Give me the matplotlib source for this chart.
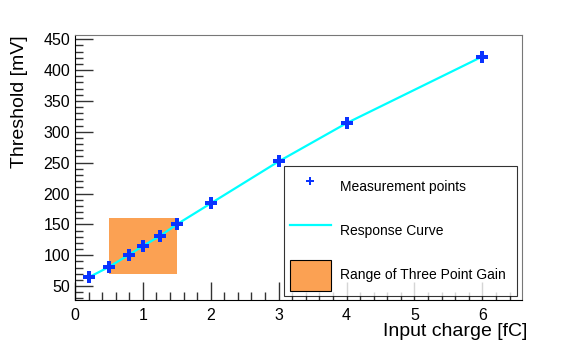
import matplotlib.pyplot as plt
from matplotlib.patches import Rectangle
from matplotlib.ticker import MultipleLocator

plt.rcParams['font.family'] = ['Liberation Sans', 'DejaVu Sans']

charge = [0.2, 0.5, 0.8, 1.0, 1.25, 1.5, 2.0, 3.0, 4.0, 6.0]
threshold = [64, 81, 101, 115, 131, 150, 184, 252, 314, 422]
gain_x = [0.5, 1.5]
gain_y = [70, 160]

fig = plt.figure(figsize=(5.81, 3.47), dpi=100)
ax = fig.add_axes([0.129, 0.135, 0.769, 0.764])

box = Rectangle((gain_x[0], gain_y[0]), gain_x[1] - gain_x[0], gain_y[1] - gain_y[0],
                facecolor='#fba153', edgecolor='none', zorder=1)
ax.add_patch(box)
ax.plot(charge, threshold, color='#00ffff', lw=1.6, zorder=2)
ax.plot(charge, threshold, ls='none', marker='P', ms=8, color='#0a33ff',
        markeredgewidth=0, zorder=3)

# legend proxies
h_pts, = ax.plot([], [], ls='none', marker='P', ms=6, color='#0a33ff', markeredgewidth=0)
h_line, = ax.plot([], [], color='#00ffff', lw=1.6)
h_box = Rectangle((0, 0), 1, 1, facecolor='#fba153', edgecolor='black', lw=0.8)
leg = ax.legend([h_pts, h_line, h_box],
                ['Measurement points', 'Response Curve', 'Range of Three Point Gain'],
                loc='lower left', bbox_to_anchor=(0.468, 0.015, 0.521, 0.487), mode='expand',
                fontsize=10, frameon=True, fancybox=False, borderpad=0.4,
                labelspacing=1.0, handlelength=3.0, handleheight=3.0, handletextpad=0.65,
                borderaxespad=0)
leg.get_frame().set_edgecolor('black')
leg.get_frame().set_linewidth(0.8)

ax.set_xlim(0, 6.58)
ax.set_ylim(27.2, 456.8)
ax.xaxis.set_major_locator(MultipleLocator(1))
ax.xaxis.set_minor_locator(MultipleLocator(0.2))
ax.yaxis.set_major_locator(MultipleLocator(50))
ax.yaxis.set_minor_locator(MultipleLocator(10))
ax.tick_params(which='both', direction='in', top=False, right=False, labelsize=11.5,
               color='#333333')
ax.tick_params(which='major', length=13, width=1)
ax.tick_params(which='minor', length=6, width=1)
ax.tick_params(axis='x', pad=6)
for s in ax.spines.values():
    s.set_color('#777777')
ax.spines['left'].set_color('black')
ax.spines['bottom'].set_color('black')

ax.set_xlabel('Input charge [fC]', fontsize=14, ha='right')
ax.xaxis.set_label_coords(1.012, -0.085)
ax.set_ylabel('Threshold [mV]', fontsize=14, loc='top', labelpad=11)

fig.savefig('out.png', dpi=100)
